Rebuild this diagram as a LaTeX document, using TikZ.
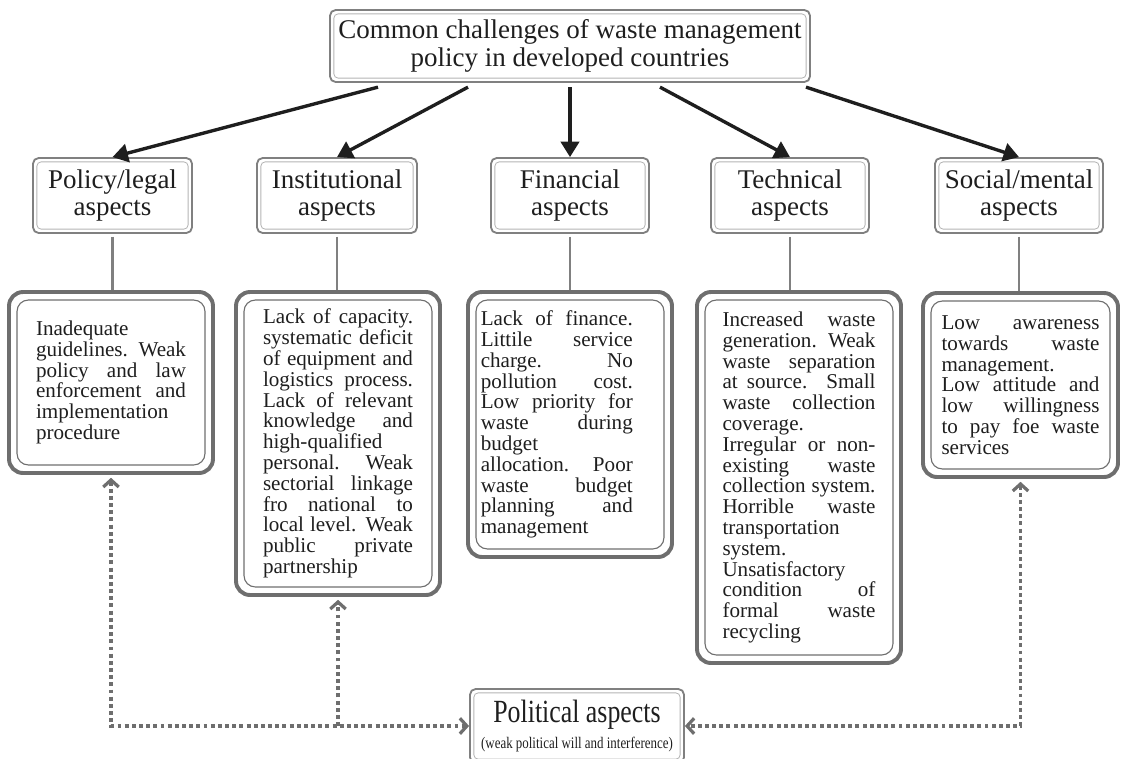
\documentclass[tikz,border=0pt]{standalone}
\usepackage{fontspec}
\setmainfont{Liberation Serif}
\newfontfamily\narrowrm[FakeStretch=0.8]{Liberation Serif}
\usetikzlibrary{arrows.meta}
\hyphenpenalty=10000
\exhyphenpenalty=10000
\tolerance=9999
\hbadness=10000
\definecolor{boxgray}{HTML}{6E6E6E}
\definecolor{linegray}{HTML}{808080}
\definecolor{thingray}{HTML}{B4B4B4}
\definecolor{ink}{HTML}{1E1E1E}
\tikzset{
  open/.tip={Straight Barb[length=5pt,width=11pt]},
  fat/.tip={Triangle[length=11pt,width=13pt]},
  headbox/.style={draw=linegray,line width=1.3pt,rounded corners=4pt,align=center,
    text=ink,inner sep=0pt,font=\fontsize{19.2}{19.5}\selectfont},
  textbox/.style={draw=boxgray,line width=2.8pt,rounded corners=10pt,align=justify,
    text=ink,inner sep=0pt,font=\fontsize{15}{14.8}\selectfont},
  down/.style={ink,line width=2.4pt,-{fat}},
  stem/.style={linegray,line width=2pt},
  dots/.style={boxgray,line width=2.3pt,dash pattern=on 2.8pt off 2.3pt}
}
\begin{document}
\begin{tikzpicture}
  \clip (0,0) rectangle (28.025,-18.95);
  % main box
  \node[headbox,minimum width=12cm,minimum height=1.8cm] (title) at (14.25,-1.15)
    {Common challenges of waste management\\policy in developed countries};
  % the five groups
  \node[headbox,minimum width=3.975cm,minimum height=1.875cm] (pol) at (2.8125,-4.8875) {Policy/legal\\aspects};
  \node[headbox,minimum width=4cm,minimum height=1.875cm] (ins) at (8.425,-4.8875) {Institutional\\aspects};
  \node[headbox,minimum width=3.95cm,minimum height=1.875cm] (fin) at (14.25,-4.8875) {Financial\\aspects};
  \node[headbox,minimum width=3.95cm,minimum height=1.875cm] (tec) at (19.75,-4.8875) {Technical\\aspects};
  \node[headbox,minimum width=4.2cm,minimum height=1.875cm] (soc) at (25.475,-4.8875) {Social/mental\\aspects};
  % details
  \node[textbox,text width=3.75cm,minimum width=5.1cm,minimum height=4.525cm] (pol-d) at (2.775,-9.5625)
    {Inadequate\linebreak guidelines. Weak\linebreak policy and law\linebreak enforcement and\linebreak
     implementation\linebreak procedure};
  \node[textbox,text width=3.75cm,minimum width=5.1cm,minimum height=7.575cm] (ins-d) at (8.45,-11.0875)
    {Lack of capacity.\linebreak systematic deficit\linebreak of equipment and\linebreak logistics process.\linebreak
     Lack of relevant\linebreak knowledge and\linebreak high-qualified\linebreak personal. Weak\linebreak
     sectorial linkage\linebreak fro national to\linebreak local level. Weak\linebreak public private\linebreak partnership};
  % text sits close to the left frame here
  \node[textbox,align=left,minimum width=5.1cm,minimum height=6.625cm] (fin-d) at (14.25,-10.6125)
    {\hspace*{-0.66cm}\parbox{3.8cm}{Lack of finance.\linebreak Littile service\linebreak charge. No\linebreak
     pollution cost.\linebreak Low priority for\linebreak waste during\linebreak budget\linebreak allocation. Poor\linebreak
     waste budget\linebreak planning and\linebreak management}};
  \node[textbox,text width=3.825cm,minimum width=5.1cm,minimum height=9.275cm] (tec-d) at (19.975,-11.9375)
    {Increased waste\linebreak generation. Weak\linebreak waste separation\linebreak at source. Small\linebreak
     waste collection\linebreak coverage.\linebreak Irregular or non-\linebreak existing waste\linebreak
     collection system.\linebreak Horrible waste\linebreak transportation\linebreak system.\linebreak
     Unsatisfactory\linebreak condition of\linebreak formal waste\linebreak recycling};
  \node[textbox,text width=3.95cm,minimum width=4.875cm,minimum height=4.6cm] (soc-d) at (25.5125,-9.625)
    {Low awareness\linebreak towards waste\linebreak management.\linebreak
     Low attitude and\linebreak low willingness\linebreak to pay foe waste\linebreak services};
  % political box at the bottom
  \node[headbox,minimum width=5.35cm,minimum height=1.85cm] (polit) at (14.425,-18.15)
    {\narrowrm\fontsize{23}{16}\selectfont Political aspects\\[-1pt]
     \narrowrm\fontsize{11.5}{13}\selectfont (weak political will and interference)};
  % inner frames
  \foreach \n in {title,pol,ins,fin,tec,soc,polit}
    \draw[thingray,line width=0.6pt,rounded corners=3pt]
      ([shift={(0.12,0.12)}]\n.south west) rectangle ([shift={(-0.12,-0.12)}]\n.north east);
  \foreach \n in {pol,ins,fin,tec,soc}
    \draw[boxgray,line width=0.8pt,rounded corners=8pt]
      ([shift={(0.25,0.25)}]\n-d.south west) rectangle ([shift={(-0.25,-0.25)}]\n-d.north east);
  % arrows from the main box
  \foreach \n/\s in {pol/-4.8,ins/-2.55,fin/0,tec/2.25,soc/5.9}
    \draw[down] ([xshift=\s cm,yshift=-3pt]title.south) -- (\n.north);
  \foreach \n in {pol,ins,fin,tec,soc}
    \draw[stem] ([yshift=-2pt]\n.south) -- (\n.south |- \n-d.north);
  % dotted links to the political box
  \draw[dots,{open}-{open}] ([yshift=-2pt]pol-d.south) |- (polit.west);
  \draw[dots,-{open}] (ins-d.south |- polit.west) -- ([yshift=-2pt]ins-d.south);
  \draw[dots,{open}-{open}] ([yshift=-2pt]soc-d.south) |- (polit.east);
\end{tikzpicture}
\end{document}
